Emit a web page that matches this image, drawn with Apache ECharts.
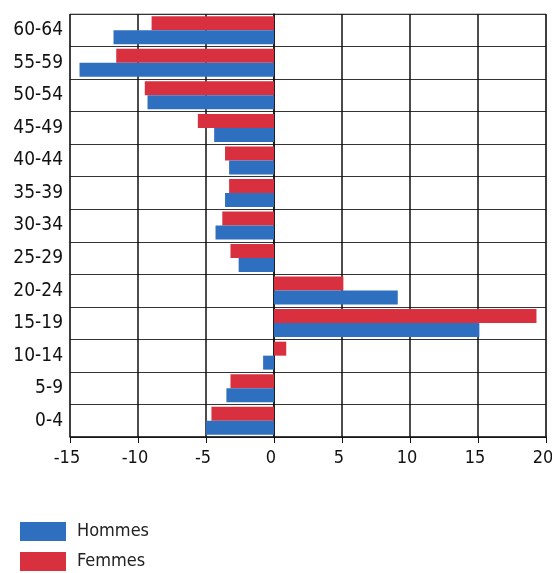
<!DOCTYPE html>
<html>
<head>
<meta charset="utf-8">
<script src="https://cdn.jsdelivr.net/npm/echarts@6/dist/echarts.min.js"></script>
<style>
  html, body { margin: 0; padding: 0; background: #fff; }
  #chart { width: 552px; height: 573px; }
</style>
</head>
<body>
<div id="chart"></div>
<script>
// Age groups, bottom to top
const ageGroups = ["0-4", "5-9", "10-14", "15-19", "20-24", "25-29", "30-34",
                   "35-39", "40-44", "45-49", "50-54", "55-59", "60-64"];
// Change by age group (%)
const hommes = [-5.0, -3.5, -0.8, 15.1, 9.1, -2.6, -4.3, -3.6, -3.3, -4.4, -9.3, -14.3, -11.8];
const femmes = [-4.6, -3.2, 0.9, 19.3, 5.1, -3.2, -3.8, -3.3, -3.6, -5.6, -9.5, -11.6, -9.0];
const xTicks = [-15, -10, -5, 0, 5, 10, 15, 20];

const fontFamily = '"DejaVu Sans Condensed", "Liberation Sans Narrow", sans-serif';

const chart = echarts.init(document.getElementById('chart'), null, { renderer: 'canvas' });

chart.setOption({
  animation: false,
  backgroundColor: '#ffffff',
  textStyle: { fontFamily: fontFamily },
  grid: { left: 70, right: 6, top: 14, bottom: 136, containLabel: false,
          outerBoundsMode: 'none',
          show: true, borderColor: '#8a8a8a', borderWidth: 1 },
  legend: {
    orient: 'vertical',
    left: 20,
    top: 522,
    padding: 0,
    itemWidth: 46,
    itemHeight: 19,
    itemGap: 11,
    icon: 'rect',
    textStyle: { fontFamily: fontFamily, fontSize: 18, color: '#222', padding: [0, 0, 0, 6] },
    data: ['Hommes', 'Femmes']
  },
  xAxis: {
    type: 'value',
    min: xTicks[0],
    max: xTicks[xTicks.length - 1],
    interval: 5,
    axisLine: { show: true, onZero: false, lineStyle: { color: '#111', width: 1.5 } },
    axisTick: { show: true, inside: false, length: 6, lineStyle: { color: '#111' } },
    axisLabel: { margin: 12, fontSize: 18, color: '#111', fontFamily: fontFamily,
                 padding: [0, 6, 0, 0] },
    splitLine: { show: true, lineStyle: { color: '#111', width: 1.5 } }
  },
  yAxis: {
    type: 'category',
    data: ageGroups,
    axisLine: { show: true, lineStyle: { color: '#111', width: 1.5 } },
    axisTick: { show: false },
    axisLabel: { margin: 7, fontSize: 19, color: '#111', fontFamily: fontFamily },
    splitLine: { show: true, lineStyle: { color: '#333', width: 1 } }
  },
  series: [
    {
      name: 'Femmes',
      type: 'bar',
      data: femmes,
      barGap: '0%',
      barCategoryGap: '14%',
      itemStyle: { color: '#d8303f' }
    },
    {
      name: 'Hommes',
      type: 'bar',
      data: hommes,
      barGap: '0%',
      barCategoryGap: '14%',
      itemStyle: { color: '#2f6fc0' }
    }
  ]
});
</script>
</body>
</html>
